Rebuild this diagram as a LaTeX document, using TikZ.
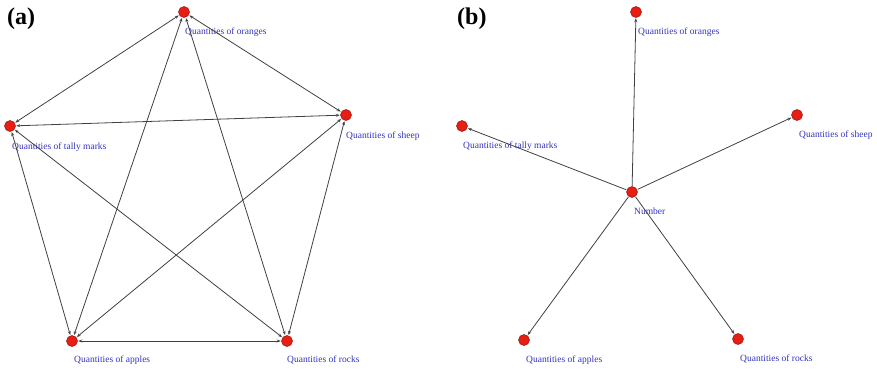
\documentclass[tikz,border=0pt]{standalone}
\usepackage{fontspec}
\setmainfont{Liberation Serif}
\usetikzlibrary{arrows.meta}
\definecolor{lblue}{RGB}{50,50,190}
\definecolor{nred}{RGB}{230,30,20}
\definecolor{nborder}{RGB}{150,20,10}
\begin{document}
\begin{tikzpicture}[x=1pt,y=-1pt,
  vert/.style={circle,fill=nred,draw=nborder,line width=0.5pt,minimum size=11pt,inner sep=0pt},
  lbl/.style={anchor=base west,text=lblue,font=\fontsize{9.5}{10}\selectfont,inner sep=0pt},
  edge/.style={draw=black!75,line width=0.8pt,shorten <=0.5pt,shorten >=0.5pt},
  bi/.style={edge,{Stealth[length=4pt,width=3pt]}-{Stealth[length=4pt,width=3pt]}},
  uni/.style={edge,-{Stealth[length=4pt,width=3pt]}},
  panel/.style={font=\fontsize{24}{24}\selectfont\bfseries,anchor=base west,inner sep=0pt}]
\useasboundingbox (0,0) rectangle (877,370);
% panel labels
\node[panel] (pa) at (7,24) {(a)};
\node[panel] (pb) at (457,24) {(b)};
% (a) nodes
\node[vert] (ao) at (184,12) {};
\node[vert] (at) at (10,126) {};
\node[vert] (as) at (346,115) {};
\node[vert] (aa) at (72,341) {};
\node[vert] (ar) at (287,341) {};
\node[lbl] (aol) at (185,34) {Quantities of oranges};
\node[lbl] (atl) at (12,149) {Quantities of tally marks};
\node[lbl] (asl) at (346,138) {Quantities of sheep};
\node[lbl] (aal) at (74,362) {Quantities of apples};
\node[lbl] (arl) at (287,362) {Quantities of rocks};
\draw[bi] (ao) -- (at);
\draw[bi] (ao) -- (as);
\draw[bi] (ao) -- (aa);
\draw[bi] (ao) -- (ar);
\draw[bi] (at) -- (as);
\draw[bi] (at) -- (aa);
\draw[bi] (at) -- (ar);
\draw[bi] (as) -- (aa);
\draw[bi] (as) -- (ar);
\draw[bi] (aa) -- (ar);
% (b) nodes
\node[vert] (bo) at (636,12) {};
\node[vert] (bt) at (462,126) {};
\node[vert] (bs) at (797,115) {};
\node[vert] (bn) at (632,192) {};
\node[vert] (ba) at (524,340) {};
\node[vert] (br) at (738,339) {};
\node[lbl] (bol) at (638,34) {Quantities of oranges};
\node[lbl] (btl) at (463,148) {Quantities of tally marks};
\node[lbl] (bsl) at (799,137) {Quantities of sheep};
\node[lbl] (bnl) at (634,214) {Number};
\node[lbl] (bal) at (526,362) {Quantities of apples};
\node[lbl] (brl) at (740,361) {Quantities of rocks};
\draw[uni] (bn) -- (bo);
\draw[uni] (bn) -- (bt);
\draw[uni] (bn) -- (bs);
\draw[uni] (bn) -- (ba);
\draw[uni] (bn) -- (br);
\end{tikzpicture}
\end{document}
